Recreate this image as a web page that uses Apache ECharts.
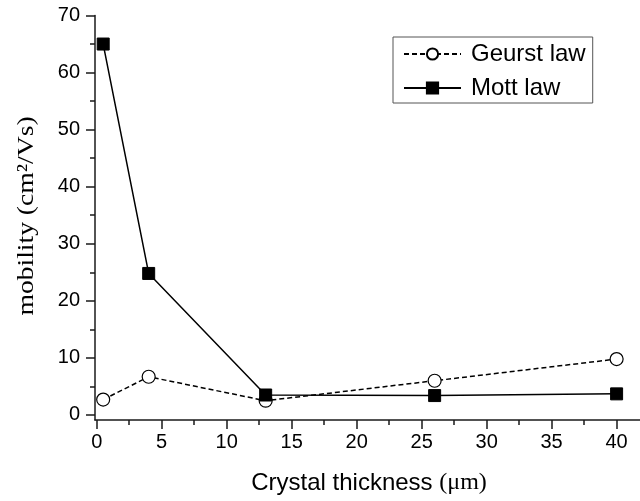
<!DOCTYPE html>
<html>
<head>
<meta charset="utf-8">
<script src="https://cdn.jsdelivr.net/npm/echarts@6/dist/echarts.min.js"></script>
<style>html,body{margin:0;padding:0;background:#fff;}#c{width:640px;height:501px;}</style>
</head>
<body>
<div id="c"></div>
<script>
var thickness = [0.5, 4, 13, 26, 40];
var geurst = [2.7, 6.7, 2.5, 6.0, 9.8];
var mott = [65, 24.8, 3.5, 3.4, 3.7];
var xMajorTicks = [0, 5, 10, 15, 20, 25, 30, 35, 40];
var xMinorTicks = [2.5, 7.5, 12.5, 17.5, 22.5, 27.5, 32.5, 37.5];
var yMajorTicks = [0, 10, 20, 30, 40, 50, 60, 70];
var yMinorTicks = [5, 15, 25, 35, 45, 55, 65];
var seriesNames = ['Geurst law', 'Mott law'];
var xTitle = 'Crystal thickness ';
var xTitleUnit = '(\u03bcm)';
var yTitle = 'mobility (cm\u00b2/Vs)';

function pairs(xs, ys) { return xs.map(function (x, i) { return [x, ys[i]]; }); }

var chart = echarts.init(document.getElementById('c'));
var sans = 'Liberation Sans, Arial, sans-serif';
var serif = 'Liberation Serif, Times New Roman, serif';
var axisCol = '#1a1a1a';
var X_MIN = -0.13, X_MAX = 41.8, Y_MIN = -0.88, Y_MAX = 70;

chart.setOption({
  animation: false,
  backgroundColor: '#fff',
  grid: { left: 95, right: 0, top: 15.5, bottom: 81, containLabel: false },
  legend: {
    orient: 'vertical', left: 393, top: 37,
    padding: [5, 7, 3, 10],
    borderColor: '#555', borderWidth: 1,
    itemGap: 10, itemWidth: 57, itemHeight: 14,
    textStyle: { fontSize: 24, fontFamily: sans, color: '#000', padding: [0, 0, 0, 5] },
    data: seriesNames
  },
  xAxis: [{
    type: 'value', min: X_MIN, max: X_MAX, position: 'bottom',
    axisLine: { show: true, onZero: false, lineStyle: { color: axisCol, width: 1.5 } },
    axisTick: { show: true, inside: false, length: 9, customValues: xMajorTicks, lineStyle: { color: axisCol, width: 1.5 } },
    axisLabel: { customValues: xMajorTicks, fontSize: 20, fontFamily: sans, color: '#000', margin: 12 },
    splitLine: { show: false }
  }, {
    type: 'value', min: X_MIN, max: X_MAX, position: 'bottom', gridIndex: 0,
    axisLine: { show: false, onZero: false },
    axisTick: { show: true, inside: false, length: 5, customValues: xMinorTicks, lineStyle: { color: axisCol, width: 1.5 } },
    axisLabel: { show: false },
    splitLine: { show: false }
  }],
  yAxis: [{
    type: 'value', min: Y_MIN, max: Y_MAX, position: 'left',
    axisLine: { show: true, onZero: false, lineStyle: { color: axisCol, width: 1.5 } },
    axisTick: { show: true, inside: false, length: 9, customValues: yMajorTicks, lineStyle: { color: axisCol, width: 1.5 } },
    axisLabel: { customValues: yMajorTicks, fontSize: 20, fontFamily: sans, color: '#000', margin: 15 },
    splitLine: { show: false }
  }, {
    type: 'value', min: Y_MIN, max: Y_MAX, position: 'left', gridIndex: 0,
    axisLine: { show: false, onZero: false },
    axisTick: { show: true, inside: false, length: 5, customValues: yMinorTicks, lineStyle: { color: axisCol, width: 1.5 } },
    axisLabel: { show: false },
    splitLine: { show: false }
  }],
  series: [{
    name: seriesNames[0], type: 'line', xAxisIndex: 0, yAxisIndex: 0,
    data: pairs(thickness, geurst),
    symbol: 'circle', symbolSize: 13,
    lineStyle: { color: '#000', width: 1.5, type: [5, 3] },
    itemStyle: { color: '#fff', borderColor: '#000', borderWidth: 1.2 }
  }, {
    name: seriesNames[1], type: 'line', xAxisIndex: 0, yAxisIndex: 0,
    data: pairs(thickness, mott),
    symbol: 'rect', symbolSize: 12,
    lineStyle: { color: '#000', width: 1.5, type: 'solid' },
    itemStyle: { color: '#000', borderColor: '#000', borderWidth: 1 }
  }],
  graphic: [{
    type: 'text', x: 369, y: 483,
    style: {
      text: '{a|' + xTitle + '}{b|' + xTitleUnit + '}',
      align: 'center', verticalAlign: 'middle',
      rich: {
        a: { fontSize: 24, fontFamily: sans, fill: '#000' },
        b: { fontSize: 24, fontFamily: serif, fill: '#000' }
      }
    }
  }, {
    type: 'text', x: 27, y: 216, rotation: Math.PI / 2, scaleX: 1.2,
    style: {
      text: yTitle, align: 'center', verticalAlign: 'middle',
      fontSize: 23, fontFamily: serif, fill: '#000'
    }
  }]
});
</script>
</body>
</html>
